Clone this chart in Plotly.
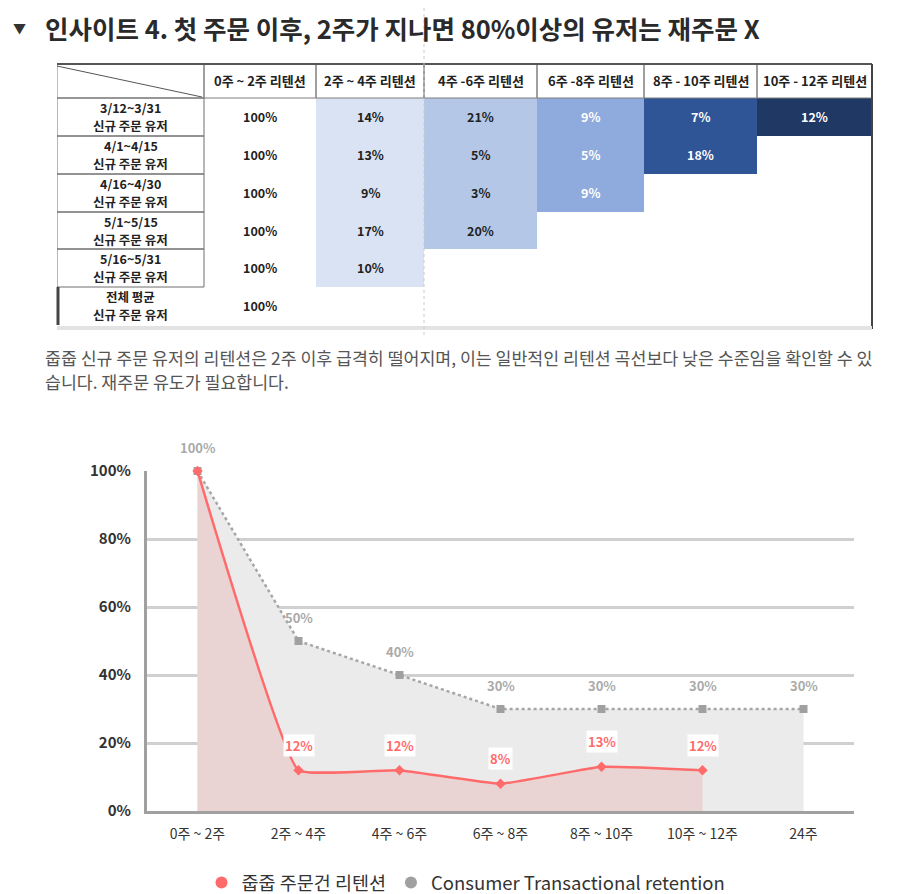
import plotly.graph_objects as go

FONT = "Noto Sans CJK KR"
OFF = 8            # page body margin
FW, FH = 897 - OFF, 894 - OFF

# ---------------- data ----------------
title_text = "인사이트 4. 첫 주문 이후, 2주가 지나면 80%이상의 유저는 재주문 X"
paragraph_lines = [
    "줍줍 신규 주문 유저의 리텐션은 2주 이후 급격히 떨어지며, 이는 일반적인 리텐션 곡선보다 낮은 수준임을 확인할 수 있",
    "습니다. 재주문 유도가 필요합니다.",
]

col_headers = ["0주 ~ 2주 리텐션", "2주 ~ 4주 리텐션", "4주 -6주 리텐션",
               "6주 -8주 리텐션", "8주 - 10주 리텐션", "10주 - 12주 리텐션"]
cohort_periods = ["3/12~3/31", "4/1~4/15", "4/16~4/30", "5/1~5/15", "5/16~5/31", "전체 평균"]
cohort_labels = ["신규 주문 유저"] * 6
ret_0_2 = ["100%", "100%", "100%", "100%", "100%", "100%"]
ret_2_4 = ["14%", "13%", "9%", "17%", "10%", ""]
ret_4_6 = ["21%", "5%", "3%", "20%", "", ""]
ret_6_8 = ["9%", "5%", "9%", "", "", ""]
ret_8_10 = ["7%", "18%", "", "", "", ""]
ret_10_12 = ["12%", "", "", "", "", ""]

chart_cats = ["0주 ~ 2주", "2주 ~ 4주", "4주 ~ 6주", "6주 ~ 8주", "8주 ~ 10주", "10주 ~ 12주", "24주"]
jupjup = [100, 12, 12, 8, 13, 12]
consumer = [100, 50, 40, 30, 30, 30, 30]
y_ticks = [0, 20, 40, 60, 80, 100]

# ---------------- styles / layout constants ----------------
col_widths = [147, 112, 108, 113, 107, 113, 115]   # row-header column + 6 period columns
row_heights = [34, 38, 38, 38, 37, 38, 38]          # header row + 6 cohort rows
cell_colors = ["#ffffff", "#dae3f3", "#b4c7e7", "#8faadc", "#2f5597", "#203864"]
text_colors = ["#222222", "#222222", "#222222", "#222222", "#ffffff", "#ffffff", "#ffffff"]
RED = "#ff6b6b"
GRAY = "#a6a6a6"
TABLE_LEFT, TABLE_TOP, TABLE_RIGHT = 57, 64, 872


def px(x):
    return (x - OFF) / FW


def py(y):
    return 1 - (y - OFF) / FH


def cum(v):
    out = [0]
    for a in v:
        out.append(out[-1] + a)
    return out


xe = cum(col_widths)
ye = cum(row_heights)
xc = [(xe[i] + xe[i + 1]) / 2 for i in range(len(col_widths))]
yc = [(ye[i] + ye[i + 1]) / 2 for i in range(len(row_heights))]
TABLE_BOTTOM = TABLE_TOP + ye[-1]

fig = go.Figure()

# ---------------- table (heatmap cells) ----------------
period_cols = [ret_0_2, ret_2_4, ret_4_6, ret_6_8, ret_8_10, ret_10_12]
n_rows = len(cohort_periods)
z = [[0] * len(col_widths)]  # header row
for r in range(n_rows):
    row = [0, 0]
    for k, col in enumerate(period_cols[1:], start=1):
        row.append(k if col[r] else 0)
    z.append(row)

nc = len(cell_colors)
cscale = []
for i, c in enumerate(cell_colors):
    cscale.append([i / nc, c])
    cscale.append([(i + 1) / nc, c])

fig.add_trace(go.Heatmap(z=z, x=xe, y=ye, colorscale=cscale, zmin=-0.5, zmax=nc - 0.5,
                         showscale=False, hoverinfo="skip", xaxis="x2", yaxis="y2"))

annotations = []
# header texts
for j, h in enumerate(col_headers, start=1):
    annotations.append(dict(x=xc[j], y=yc[0], xref="x2", yref="y2", text="<b>%s</b>" % h,
                            showarrow=False, font=dict(family=FONT, size=13, color="#222222")))
# row headers (two lines)
for r, (p, l) in enumerate(zip(cohort_periods, cohort_labels), start=1):
    annotations.append(dict(x=xc[0], y=yc[r], xref="x2", yref="y2", text="<b>%s</b>" % p,
                            showarrow=False, yshift=9,
                            font=dict(family=FONT, size=12.5, color="#222222")))
    annotations.append(dict(x=xc[0], y=yc[r], xref="x2", yref="y2", text="<b>%s</b>" % l,
                            showarrow=False, yshift=-9,
                            font=dict(family=FONT, size=12.5, color="#222222")))
# values
for j, col in enumerate(period_cols, start=1):
    for r, v in enumerate(col, start=1):
        if v:
            annotations.append(dict(x=xc[j], y=yc[r], xref="x2", yref="y2", text="<b>%s</b>" % v,
                                    showarrow=False,
                                    font=dict(family=FONT, size=12.5, color=text_colors[j])))

shapes = []
# header cell borders
for j in range(len(col_widths)):
    shapes.append(dict(type="rect", xref="x2", yref="y2", x0=xe[j], x1=xe[j + 1], y0=ye[0], y1=ye[1],
                       line=dict(color="#7f7f7f", width=1)))
# row-header borders
for r in range(1, len(row_heights) - 1):
    shapes.append(dict(type="rect", xref="x2", yref="y2", x0=xe[0], x1=xe[1], y0=ye[r], y1=ye[r + 1],
                       line=dict(color="#6f6f6f", width=1)))
shapes += [
    dict(type="line", xref="x2", yref="y2", x0=xe[0], y0=ye[0] + 2, x1=xe[1] - 2, y1=ye[1] - 1,
         line=dict(color="#555555", width=1)),
    dict(type="line", xref="paper", yref="paper", x0=px(TABLE_LEFT), y0=py(TABLE_TOP),
         x1=px(TABLE_RIGHT), y1=py(TABLE_TOP), line=dict(color="#555555", width=2)),
    dict(type="line", xref="paper", yref="paper", x0=px(TABLE_RIGHT), y0=py(TABLE_TOP),
         x1=px(TABLE_RIGHT), y1=py(TABLE_BOTTOM + 4), line=dict(color="#444444", width=2)),
    dict(type="line", xref="paper", yref="paper", x0=px(TABLE_LEFT + 1), y0=py(TABLE_TOP + ye[-2]),
         x1=px(TABLE_LEFT + 1), y1=py(TABLE_BOTTOM), line=dict(color="#444444", width=3)),
    dict(type="line", xref="paper", yref="paper", x0=px(TABLE_LEFT), y0=py(TABLE_BOTTOM + 3),
         x1=px(TABLE_RIGHT), y1=py(TABLE_BOTTOM + 3), line=dict(color="#e3e3e3", width=4)),
    dict(type="line", xref="paper", yref="paper", x0=px(424), y0=py(8), x1=px(424), y1=py(335),
         line=dict(color="#cccccc", width=1, dash="dot"), layer="above"),
]

# ---------------- chart ----------------
fig.add_trace(go.Scatter(
    x=chart_cats, y=consumer, mode="lines+markers", showlegend=False,
    line=dict(color=GRAY, width=2.5, dash="dot"),
    marker=dict(size=8, symbol="square", color="#a0a0a0"),
    fill="tozeroy", fillcolor="#ebebeb", xaxis="x", yaxis="y",
    name="Consumer Transactional retention", cliponaxis=False, hoverinfo="skip"))
fig.add_trace(go.Scatter(
    x=chart_cats[:len(jupjup)], y=jupjup, mode="lines+markers", showlegend=False,
    line=dict(color=RED, width=2.5, shape="spline", smoothing=0.3),
    marker=dict(size=8, symbol="diamond", color=RED),
    fill="tozeroy", fillcolor="#ead3d3", xaxis="x", yaxis="y",
    name="줍줍 주문건 리텐션", cliponaxis=False, hoverinfo="skip"))
# legend entries
fig.add_trace(go.Scatter(x=[None], y=[None], mode="markers", name="줍줍 주문건 리텐션",
                         marker=dict(size=18, color=RED, symbol="circle")))
fig.add_trace(go.Scatter(x=[None], y=[None], mode="markers", name="Consumer Transactional retention",
                         marker=dict(size=18, color="#a0a0a0", symbol="circle")))

for c, v in zip(chart_cats, consumer):
    annotations.append(dict(x=c, y=v, xref="x", yref="y", text="<b>%d%%</b>" % v,
                            showarrow=False, yshift=24,
                            font=dict(family=FONT, size=13, color="#aaaaaa")))
for c, v in list(zip(chart_cats, jupjup))[1:]:
    annotations.append(dict(x=c, y=v, xref="x", yref="y", text="<b>%d%%</b>" % v,
                            showarrow=False, yshift=25, bgcolor="white",
                            font=dict(family=FONT, size=13, color=RED)))

# title / text
annotations.append(dict(x=px(11), y=py(28), xref="paper", yref="paper", xanchor="left",
                        yanchor="middle", showarrow=False, text="▼",
                        font=dict(family=FONT, size=13, color="#333333")))
annotations.append(dict(x=px(43), y=py(28), xref="paper", yref="paper", xanchor="left",
                        yanchor="middle", showarrow=False, text="<b>%s</b>" % title_text,
                        font=dict(family=FONT, size=25.5, color="#2a2a2a")))
for i, t in enumerate(paragraph_lines):
    annotations.append(dict(x=px(43), y=py(357 + 24 * i), xref="paper", yref="paper",
                            xanchor="left", yanchor="middle", showarrow=False, text=t,
                            font=dict(family=FONT, size=17.3, color="#555555")))

fig.update_layout(
    width=FW, height=FH, autosize=False,
    margin=dict(l=0, r=0, t=0, b=0, autoexpand=False),
    paper_bgcolor="white", plot_bgcolor="white",
    font=dict(family=FONT, color="#333333"),
    xaxis=dict(domain=[px(147), px(854)], range=[-0.5, 6.5], type="category",
               showgrid=False, zeroline=False, showline=True, linecolor="#a0a0a0", linewidth=3,
               ticks="outside", ticklen=8, tickcolor="rgba(0,0,0,0)",
               tickfont=dict(family=FONT, size=14, color="#333333")),
    yaxis=dict(domain=[py(811), py(471)], range=[0, 100], tickvals=y_ticks,
               ticktext=["<b>%d%%</b>" % v for v in y_ticks],
               showgrid=True, gridcolor="#d0d0d0", gridwidth=3, zeroline=False,
               showline=True, linecolor="#a0a0a0", linewidth=3,
               ticks="outside", ticklen=10, tickcolor="rgba(0,0,0,0)",
               tickfont=dict(family=FONT, size=15, color="#333333")),
    xaxis2=dict(domain=[px(TABLE_LEFT), px(TABLE_RIGHT)], range=[xe[0], xe[-1]], visible=False,
                fixedrange=True),
    yaxis2=dict(domain=[py(TABLE_BOTTOM), py(TABLE_TOP)], range=[ye[-1], ye[0]], visible=False,
                fixedrange=True),
    legend=dict(orientation="h", x=px(466), xanchor="center", y=py(883), yanchor="middle",
                font=dict(family=FONT, size=18.5, color="#333333"), itemsizing="constant",
                bgcolor="rgba(0,0,0,0)", itemwidth=30, tracegroupgap=0),
    annotations=annotations,
    shapes=shapes,
)

fig.write_html("out.html")
